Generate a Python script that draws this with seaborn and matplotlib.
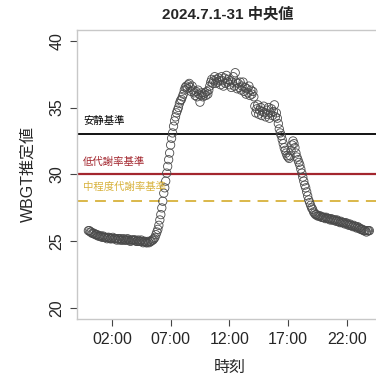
import numpy as np
import pandas as pd
import matplotlib
matplotlib.use("Agg")
import matplotlib.pyplot as plt
import seaborn as sns

# 5-minute median WBGT, one row per hour (00:00 ... 23:55)
wbgt_by_hour = [
    [25.8, 25.8, 25.7, 25.7, 25.6, 25.6, 25.6, 25.5, 25.5, 25.5, 25.4, 25.4],
    [25.4, 25.4, 25.3, 25.4, 25.3, 25.3, 25.3, 25.2, 25.3, 25.3, 25.2, 25.2],
    [25.2, 25.3, 25.2, 25.2, 25.2, 25.1, 25.2, 25.2, 25.1, 25.2, 25.1, 25.1],
    [25.2, 25.1, 25.1, 25.1, 25.2, 25.1, 25.1, 25.0, 25.1, 25.1, 25.1, 25.1],
    [25.1, 25.0, 25.0, 25.1, 25.0, 25.0, 25.1, 25.0, 24.9, 25.0, 25.0, 24.9],
    [24.9, 25.0, 24.9, 25.0, 25.0, 25.1, 25.1, 25.2, 25.3, 25.5, 25.7, 25.9],
    [26.2, 26.6, 27.0, 27.5, 28.0, 28.6, 29.0, 29.5, 30.1, 30.6, 31.1, 31.6],
    [32.2, 32.7, 33.1, 33.6, 34.0, 34.3, 34.6, 34.8, 35.0, 35.3, 35.5, 35.6],
    [35.8, 36.0, 36.3, 36.5, 36.6, 36.4, 36.7, 36.8, 36.5, 36.2, 36.6, 36.3],
    [36.1, 35.9, 36.2, 35.8, 36.3, 36.0, 35.4, 35.9, 36.1, 35.8, 36.0, 36.1],
    [35.9, 36.2, 36.0, 36.3, 36.6, 36.9, 37.1, 36.8, 37.0, 37.3, 36.8, 37.1],
    [36.9, 37.2, 37.0, 36.7, 37.3, 37.0, 36.6, 37.2, 36.8, 37.4, 36.9, 37.1],
    [36.7, 37.0, 36.5, 36.9, 37.3, 36.6, 37.6, 36.9, 36.4, 36.8, 36.5, 36.9],
    [36.3, 36.6, 36.9, 36.2, 36.5, 36.0, 36.4, 36.1, 36.6, 35.9, 36.3, 36.0],
    [36.2, 35.8, 35.1, 34.6, 34.9, 35.2, 34.5, 34.8, 35.0, 34.4, 34.7, 35.1],
    [34.6, 34.3, 34.8, 34.5, 35.0, 34.2, 34.6, 34.9, 34.4, 34.7, 35.2, 34.3],
    [34.6, 34.2, 33.8, 33.4, 33.1, 32.9, 32.6, 32.3, 32.0, 31.8, 31.6, 31.4],
    [31.3, 31.2, 31.4, 31.8, 32.2, 32.5, 32.3, 32.0, 31.6, 31.3, 31.1, 30.9],
    [30.7, 30.4, 30.1, 29.8, 29.5, 29.2, 29.0, 28.7, 28.4, 28.1, 27.9, 27.7],
    [27.5, 27.4, 27.2, 27.1, 27.0, 27.0, 26.9, 26.9, 26.9, 26.9, 26.8, 26.8],
    [26.8, 26.8, 26.7, 26.8, 26.7, 26.7, 26.7, 26.6, 26.7, 26.6, 26.6, 26.6],
    [26.6, 26.5, 26.6, 26.5, 26.5, 26.4, 26.5, 26.4, 26.4, 26.4, 26.3, 26.4],
    [26.3, 26.3, 26.2, 26.3, 26.2, 26.2, 26.1, 26.2, 26.1, 26.1, 26.0, 26.1],
    [26.0, 26.0, 25.9, 25.9, 25.9, 25.8, 25.8, 25.8, 25.7, 25.8, 25.8, 25.8],
]

tick_hours = [2, 7, 12, 17, 22]
tick_labels = ["02:00", "07:00", "12:00", "17:00", "22:00"]

thresholds = [33, 30, 28]
threshold_names = ["安静基準", "低代謝率基準", "中程度代謝率基準"]
threshold_colors = ["black", "#a3262e", "#d8b23c"]
threshold_styles = ["-", "-", "--"]

values = np.array(wbgt_by_hour).ravel()
df = pd.DataFrame({"hour": np.arange(len(values)) * 5 / 60, "wbgt": values})

sns.set_style("white")
plt.rcParams["font.family"] = ["Liberation Sans", "Noto Sans CJK JP", "DejaVu Sans"]

fig = plt.figure(figsize=(3.76, 3.78), dpi=100)
ax = fig.add_axes([0.205, 0.156, 0.81, 0.765])

for val, col, ls in zip(thresholds, threshold_colors, threshold_styles):
    if ls == "--":
        ax.axhline(val, color=col, lw=1.3, ls=(0, (6, 4)), zorder=1)
    else:
        ax.axhline(val, color=col, lw=1.3 if col == "black" else 1.6, zorder=1)

sns.scatterplot(data=df, x="hour", y="wbgt", ax=ax, marker="o", s=36,
                facecolor="none", edgecolor="#4a4a4a", linewidth=0.6, zorder=2)

label_y = [34.0, 30.9, 29.05]
for y, name, col in zip(label_y, threshold_names, threshold_colors):
    ax.text(-0.45, y, name, color=col, fontsize=7.5, va="center", ha="left",
            family=["Noto Sans CJK JP", "DejaVu Sans"])

ax.set_xlim(-0.96, 24.96)
ax.set_ylim(19.2, 40.8)
ax.set_xticks(tick_hours)
ax.set_xticklabels(tick_labels)
ax.set_yticks([20, 25, 30, 35, 40])
for lab in ax.get_yticklabels():
    lab.set_rotation(90)
    lab.set_va("center")

ax.tick_params(axis="both", direction="out", length=5, width=0.8, color="#444444",
               labelsize=11.5, pad=4, bottom=True, left=True)
for side, sp in ax.spines.items():
    sp.set_color("#c8c8c8")
    sp.set_linewidth(1.0)

ax.set_xlabel("時刻", fontsize=11.5, family=["Noto Sans CJK JP", "DejaVu Sans"], labelpad=9)
ax.set_ylabel("WBGT推定値", fontsize=11.5, family=["Liberation Sans", "Noto Sans CJK JP"], labelpad=10)
fig.text(0.607, 0.962, "2024.7.1-31 中央値", ha="center", va="center", fontsize=11,
         fontweight="bold", family=["Liberation Sans", "Noto Sans CJK JP"])

fig.savefig("out.png", dpi=100)
